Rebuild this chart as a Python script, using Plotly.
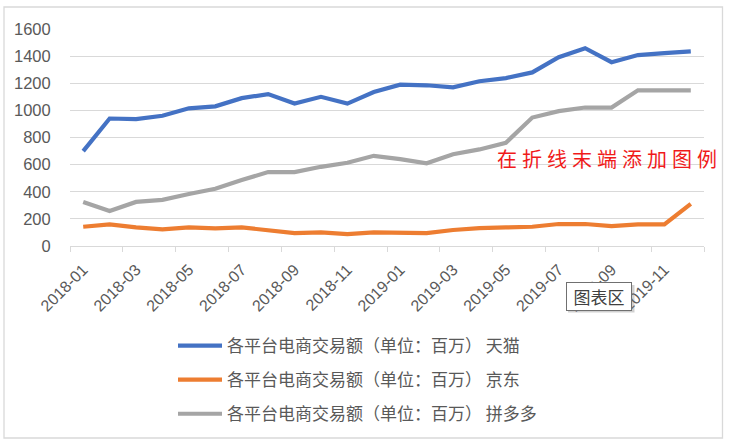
import plotly.graph_objects as go

months = ["2018-01", "2018-02", "2018-03", "2018-04", "2018-05", "2018-06",
          "2018-07", "2018-08", "2018-09", "2018-10", "2018-11", "2018-12",
          "2019-01", "2019-02", "2019-03", "2019-04", "2019-05", "2019-06",
          "2019-07", "2019-08", "2019-09", "2019-10", "2019-11", "2019-12"]
tmall = [700, 940, 935, 960, 1015, 1030, 1090, 1120, 1050, 1100, 1050, 1135,
         1190, 1185, 1170, 1215, 1238, 1280, 1392, 1458, 1355, 1408, 1422, 1435]
jd = [142, 160, 137, 123, 137, 130, 137, 118, 95, 100, 88, 100,
      100, 95, 118, 132, 137, 142, 162, 162, 147, 160, 160, 310]
pdd = [325, 258, 325, 340, 383, 422, 486, 545, 545, 584, 614, 665,
       640, 610, 677, 712, 761, 947, 994, 1021, 1021, 1148, 1148, 1148]

series_names = ["各平台电商交易额（单位：百万） 天猫",
                "各平台电商交易额（单位：百万） 京东",
                "各平台电商交易额（单位：百万） 拼多多"]
colors = ["#4472C4", "#ED7D31", "#A5A5A5"]

FONT = "Liberation Sans, Noto Sans CJK SC, sans-serif"
CJK = "Noto Sans CJK SC, sans-serif"

fig = go.Figure()
for name, vals, c, g in zip(series_names, [tmall, jd, pdd], colors, ["a", "b", "c"]):
    fig.add_trace(go.Scatter(x=months, y=vals, mode="lines", name=name,
                             legendgroup=g,
                             line=dict(color=c, width=4.2)))

W, H = 729, 446
L, R, T, B = 70, 25, 29, 200
pw, ph = W - L - R, H - T - B


def px(x):
    return (x - L) / pw


def py(y):
    return (H - B - y) / ph


fig.update_layout(
    width=W, height=H,
    margin=dict(l=L, r=R, t=T, b=B),
    paper_bgcolor="white", plot_bgcolor="white",
    font=dict(family=FONT, size=16, color="#595959"),
    showlegend=True,
    legend=dict(x=px(173), y=py(328), xanchor="left", yanchor="top",
                font=dict(family=CJK, size=17, color="#595959"),
                itemwidth=44,
                tracegroupgap=9, bgcolor="rgba(0,0,0,0)"),
    xaxis=dict(type="category", range=[-0.5, 23.5], tickson="boundaries",
               tickmode="linear", tick0=0, dtick=2,
               tickangle=-45, ticks="outside", ticklen=5, tickcolor="#D9D9D9",
               ticklabelstandoff=7,
               showline=True, linecolor="#D9D9D9", linewidth=1.3,
               showgrid=False, tickfont=dict(size=16, color="#595959")),
    yaxis=dict(range=[0, 1600], dtick=200, tick0=0, showgrid=True,
               gridcolor="#D9D9D9", gridwidth=1.3, zeroline=False,
               showline=False, ticks="outside", ticklen=15,
               tickcolor="rgba(0,0,0,0)",
               tickfont=dict(size=16.5, color="#595959")),
)

# chart area border
fig.add_shape(type="rect", xref="paper", yref="paper",
              x0=px(4), x1=px(722.5), y0=py(438), y1=py(7),
              line=dict(color="#D9D9D9", width=1.3), layer="below")

# red annotation text
fig.add_annotation(xref="paper", yref="paper", x=px(607), y=py(158),
                   text="\u2005".join("在折线末端添加图例"), showarrow=False,
                   font=dict(family=CJK, size=20, color="#F01A1A"),
                   xanchor="center", yanchor="middle")

# tooltip shadow
fig.add_shape(type="rect", xref="paper", yref="paper",
              x0=px(568), x1=px(634.5), y0=py(312.5), y1=py(285),
              fillcolor="rgba(120,120,120,0.35)", line=dict(width=0),
              layer="above")
# tooltip "图表区"
fig.add_annotation(xref="paper", yref="paper", x=px(599), y=py(296.5),
                   text="图表区", showarrow=False,
                   font=dict(family=CJK, size=17, color="#404040"),
                   bgcolor="white", bordercolor="#707070", borderwidth=1,
                   borderpad=3, xanchor="center", yanchor="middle",
                   width=58, height=21)

fig.write_html("out.html", config={"displayModeBar": False},
               post_script="document.body.style.margin='0';")
